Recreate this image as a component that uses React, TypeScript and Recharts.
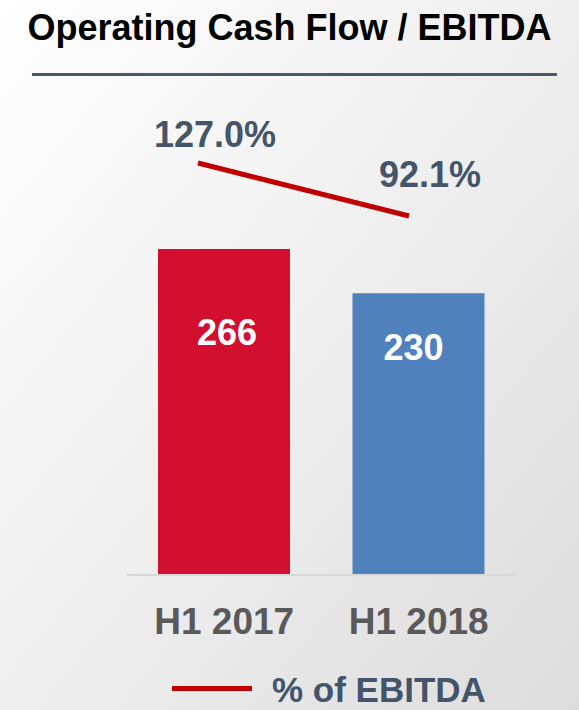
import React from 'react';
import { ComposedChart, Bar, Line, XAxis, YAxis, Cell, LabelList } from 'recharts';

const categories = ['H1 2017', 'H1 2018'];
const cashFlow = [266, 230];
const ebitdaPct = [127.0, 92.1];
const pctLabels = ['127.0%', '92.1%'];

const barColors = ['#D20F2F', '#4F81BD'];
const FONT = '"Liberation Sans", Arial, Helvetica, sans-serif';

const data = categories.map((c, i) => ({
  category: c,
  idx: i,
  cashFlow: cashFlow[i],
  pct: ebitdaPct[i],
  pctLabel: pctLabels[i],
}));

// label offsets (style)
const barLabelDx = [3, -5];
const barLabelDy = [96, 67];
const lineLabelDx = [17, 21];
const lineLabelDy = [-16, -29];

const XTick = (props: any) => {
  const { x, y, payload } = props;
  return (
    <text x={x} y={y + 59} textAnchor="middle" fontFamily={FONT} fontWeight="bold" fontSize={37} fill="#595959">
      {payload.value}
    </text>
  );
};

const BarLabel = (props: any) => {
  const { x, y, width, value, index } = props;
  return (
    <text x={x + width / 2 + barLabelDx[index]} y={y + barLabelDy[index]} textAnchor="middle" fontFamily={FONT} fontWeight="bold" fontSize={36} fill="#ffffff">
      {value}
    </text>
  );
};

const LineLabel = (props: any) => {
  const { x, y, index } = props;
  return (
    <text x={x + lineLabelDx[index]} y={y + lineLabelDy[index]} textAnchor="middle" fontFamily={FONT} fontWeight="bold" fontSize={36} fill="#44546A">
      {pctLabels[index]}
    </text>
  );
};

export default function App() {
  return (
    <div
      style={{
        position: 'absolute',
        left: 0,
        top: 0,
        width: 579,
        height: 710,
        overflow: 'hidden',
        background: 'linear-gradient(to bottom right, #ffffff 0%, #efefef 50%, #dcdcdc 100%)',
        fontFamily: FONT,
      }}
    >
      <div
        style={{
          position: 'absolute',
          top: 10,
          left: 0,
          width: 579,
          textAlign: 'center',
          fontSize: 36,
          lineHeight: '36px',
          fontWeight: 'bold',
          color: '#000000',
          whiteSpace: 'nowrap',
        }}
      >
        Operating Cash Flow / EBITDA
      </div>
      <div style={{ position: 'absolute', top: 73, left: 32, width: 525, height: 3, background: '#4B5A6B' }} />

      <div style={{ position: 'absolute', left: 0, top: 0 }}>
        <ComposedChart width={579} height={710} data={data} margin={{ top: 100, right: 63, bottom: 95, left: 127 }}>
          <XAxis
            xAxisId="bar"
            dataKey="category"
            type="category"
            axisLine={{ stroke: '#d9d9d9', strokeWidth: 2 }}
            tickLine={false}
            tickSize={0}
            tickMargin={0}
            height={40}
            tick={<XTick />}
            interval={0}
          />
          <XAxis
            xAxisId="line"
            dataKey="idx"
            type="number"
            domain={[-0.3365, 1.507]}
            allowDataOverflow
            hide
          />
          <YAxis yAxisId="bar" domain={[0, 387.6]} allowDataOverflow hide />
          <YAxis yAxisId="line" domain={[-144.3, 168.5]} allowDataOverflow hide />
          <Bar dataKey="cashFlow" xAxisId="bar" yAxisId="bar" barSize={132} isAnimationActive={false}>
            {data.map((d, i) => (
              <Cell key={d.category} fill={barColors[i]} />
            ))}
            <LabelList dataKey="cashFlow" content={<BarLabel />} />
          </Bar>
          <Line
            dataKey="pct"
            xAxisId="line"
            yAxisId="line"
            stroke="#C00000"
            strokeWidth={5}
            dot={false}
            activeDot={false}
            isAnimationActive={false}
          >
            <LabelList dataKey="pct" content={<LineLabel />} />
          </Line>
        </ComposedChart>
      </div>

      <div style={{ position: 'absolute', left: 172, top: 686, width: 80, height: 5, background: '#C00000' }} />
      <div
        style={{
          position: 'absolute',
          left: 272,
          top: 672,
          fontSize: 35,
          lineHeight: '35px',
          fontWeight: 'bold',
          color: '#44546A',
          whiteSpace: 'nowrap',
        }}
      >
        % of EBITDA
      </div>
    </div>
  );
}
